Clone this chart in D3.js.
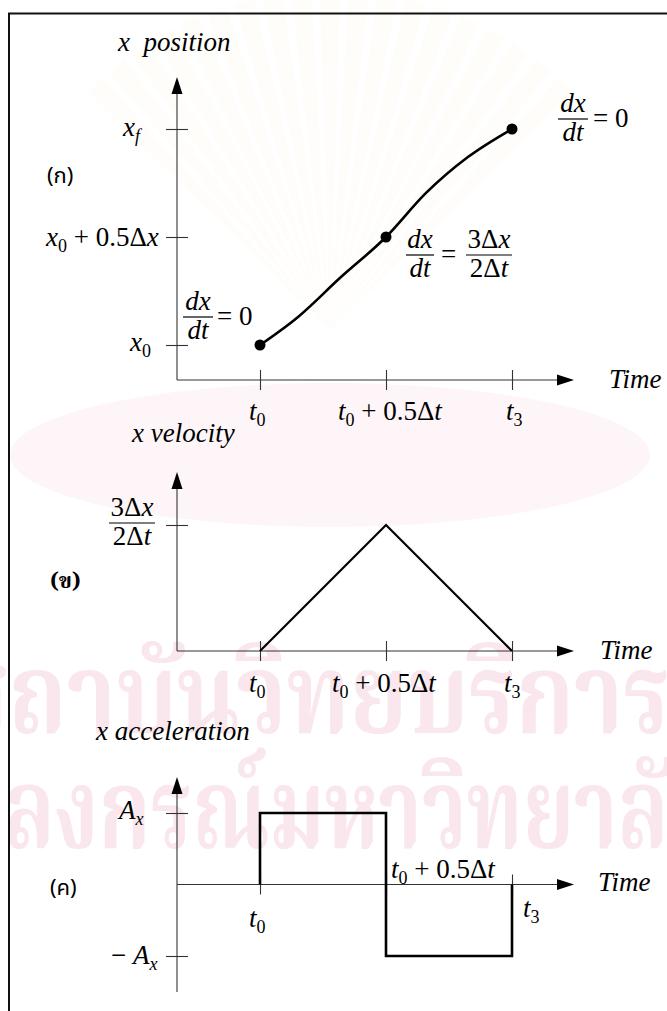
<!DOCTYPE html>
<html>
<head>
<meta charset="utf-8">
<script src="https://cdn.jsdelivr.net/npm/d3@7"></script>
</head>
<body style="margin:0">
<svg id="chart" width="667" height="1011" font-family="Liberation Serif, serif"></svg>
<script>
// ---- data -------------------------------------------------------------
// time ticks shared by the three panels: t0, t0 + 0.5Δt, t3 (fraction of Δt)
const timeTicks = [0, 0.5, 1];

// (ก) position, normalised so x0 = 0 and xf = 1
const positionTicks = [0, 0.5, 1];
const positionT = [0, 0.151, 0.317, 0.5, 0.659, 0.825, 1];
const positionX = [0, 0.130, 0.310, 0.5, 0.704, 0.870, 1];
const markerT = [0, 0.5, 1];
const markerX = [0, 0.5, 1];

// (ข) velocity, in units of Δx/Δt
const velocityTicks = [1.5];
const velocityT = [0, 0.5, 1];
const velocityV = [0, 1.5, 0];

// (ค) acceleration, in units of A_x (bang-bang profile)
const accelTicks = [1, -1];
const accelT = [0, 0, 0.5, 0.5, 1, 1];
const accelA = [0, 1, 1, -1, -1, 0];

// ---- drawing ----------------------------------------------------------
const svg = d3.select("#chart").style("display", "block");
const MATH = 27;          // font size of the maths labels
const SERIF = '"Liberation Serif", "Times New Roman", serif';
const axisColor = "#333";
const originX = 177;      // where the vertical axes stand

const x = d3.scaleLinear().domain([0, 1]).range([260, 512]);

// faint library watermark behind the figure
const rays = d3.range(-9, 10);
svg.selectAll("path.ray").data(rays).join("path")
  .attr("class", "ray")
  .attr("d", d => {
    const cx = 330, cy = 330, r = 340, a = d * 0.085, w = 0.03;
    const p1 = [cx + r * Math.sin(a - w), cy - r * Math.cos(a - w)];
    const p2 = [cx + r * Math.sin(a + w), cy - r * Math.cos(a + w)];
    return `M${cx},${cy}L${p1[0]},${p1[1]}L${p2[0]},${p2[1]}Z`;
  })
  .attr("fill", "#f6efd9").attr("opacity", 0.14);
svg.append("ellipse").attr("cx", 330).attr("cy", 455).attr("rx", 320).attr("ry", 72)
  .attr("fill", "#fcf1f4").attr("opacity", 0.7);
svg.append("text").attr("x", -50).attr("y", 733)
  .attr("textLength", 720).attr("lengthAdjust", "spacingAndGlyphs")
  .style("font-family", '"Noto Serif Thai"').style("font-weight", "bold")
  .style("font-size", "112px").attr("fill", "#f9e7ed")
  .text("สถาบันวิทยบริการ");
svg.append("text").attr("x", -150).attr("y", 848)
  .attr("textLength", 870).attr("lengthAdjust", "spacingAndGlyphs")
  .style("font-family", '"Noto Serif Thai"').style("font-weight", "bold")
  .style("font-size", "112px").attr("fill", "#f9e7ed")
  .text("จุฬาลงกรณ์มหาวิทยาลัย");

// frame
svg.append("path").attr("d", "M9,1011V13.5H667")
  .attr("fill", "none").attr("stroke", "#111").attr("stroke-width", 2);

// write a run of maths, one text element per run: [{s, i (italic), sub (subscript)}]
function math(px, py, runs, opts = {}) {
  const size = opts.size || MATH;
  const anchor = opts.anchor || "start";
  const items = [];
  let w = 0;
  runs.forEach(r => {
    const fs = r.sub ? Math.round(size * 0.66) : size;
    const t = svg.append("text")
      .attr("x", 0).attr("y", py + (r.sub ? Math.round(size * 0.24) : 0))
      .attr("font-family", "Liberation Serif, serif")
      .style("font-family", SERIF)
      .style("font-size", fs + "px");
    if (r.i) t.style("font-style", "italic");
    t.text(r.s);
    items.push([t, w]);
    w += t.node().getComputedTextLength();
  });
  const start = anchor === "middle" ? px - w / 2 : anchor === "end" ? px - w : px;
  items.forEach(([t, off]) => t.attr("x", start + off));
}

function fraction(cx, lineY, num, den, halfW) {
  math(cx, lineY - 7, num, { anchor: "middle" });
  math(cx, lineY + 22, den, { anchor: "middle" });
  svg.append("line").attr("x1", cx - halfW).attr("x2", cx + halfW)
    .attr("y1", lineY).attr("y2", lineY)
    .attr("stroke", "#000").attr("stroke-width", 1.2);
}

function arrowHead(tipX, tipY, dir) {
  const L = 17, W = 5.5;
  const pts = dir === "up"
    ? [[tipX, tipY], [tipX - W, tipY + L], [tipX + W, tipY + L]]
    : [[tipX, tipY], [tipX - L, tipY - W], [tipX - L, tipY + W]];
  svg.append("path").attr("d", d3.line()(pts) + "Z").attr("fill", "#000");
}

// axes of one panel: vertical axis with crossing ticks, time axis with ticks
function drawAxes(y, yTicks, axisY, top, bottom) {
  svg.append("line").attr("x1", originX).attr("x2", originX)
    .attr("y1", top + 14).attr("y2", bottom)
    .attr("stroke", axisColor).attr("stroke-width", 1.1);
  arrowHead(originX, top, "up");
  const ya = svg.append("g").attr("transform", `translate(${originX},0)`)
    .call(d3.axisLeft(y).tickValues(yTicks).tickFormat("").tickSizeInner(11).tickSizeOuter(0));
  ya.select(".domain").remove();
  ya.selectAll(".tick text").remove();
  ya.selectAll(".tick line").attr("x1", 11).attr("stroke", axisColor).attr("stroke-width", 1.1);

  svg.append("line").attr("x1", originX).attr("x2", 558)
    .attr("y1", axisY).attr("y2", axisY)
    .attr("stroke", axisColor).attr("stroke-width", 1.1);
  arrowHead(574, axisY, "right");
  const xa = svg.append("g").attr("transform", `translate(0,${axisY})`)
    .call(d3.axisBottom(x).tickValues(timeTicks).tickFormat("").tickSizeInner(10).tickSizeOuter(0));
  xa.select(".domain").remove();
  xa.selectAll(".tick text").remove();
  xa.selectAll(".tick line").attr("y1", -10).attr("stroke", axisColor).attr("stroke-width", 1.1);
}

function thaiLabel(px, py, s, family, bold) {
  const t = svg.append("text").attr("x", px).attr("y", py)
    .style("font-family", family).style("font-size", "22px");
  if (bold) t.style("font-weight", "bold");
  t.text(s);
}

const NB = "\u00a0";
const t0 = [{ s: "t", i: true }, { s: "0", sub: true }];
const tMid = [{ s: "t", i: true }, { s: "0", sub: true }, { s: NB + "+" + NB + "0.5Δ" }, { s: "t", i: true }];
const t3 = [{ s: "t", i: true }, { s: "3", sub: true }];
const dx = [{ s: "dx", i: true }];
const dt = [{ s: "dt", i: true }];

// ---- (ก) position --------------------------------------------------------
{
  const y = d3.scaleLinear().domain([0, 1]).range([345, 129]);
  const axisY = 380;
  drawAxes(y, positionTicks, axisY, 77, axisY);

  math(118, 51, [{ s: "x" + NB + NB + "position", i: true }]);
  thaiLabel(47, 183, "(ก)", '"Noto Sans Thai"', false);

  math(123, y(1) + 7, [{ s: "x", i: true }, { s: "f", i: true, sub: true }]);
  math(46, y(0.5) + 9, [{ s: "x", i: true }, { s: "0", sub: true }, { s: NB + "+" + NB + "0.5Δ" }, { s: "x", i: true }]);
  math(130, y(0) + 6, [{ s: "x", i: true }, { s: "0", sub: true }]);

  math(x(0) - 11, 420, t0);
  math(x(0.5) - 48, 420, tMid);
  math(x(1) - 6, 420, t3);
  math(609, axisY + 8, [{ s: "Time", i: true }]);

  const pts = positionT.map((t, k) => [x(t), y(positionX[k])]);
  svg.append("path").attr("d", d3.line().curve(d3.curveMonotoneX)(pts))
    .attr("fill", "none").attr("stroke", "#000").attr("stroke-width", 2.6);
  svg.selectAll("circle.marker").data(markerT).join("circle")
    .attr("class", "marker")
    .attr("cx", d => x(d)).attr("cy", (d, k) => y(markerX[k])).attr("r", 5.5).attr("fill", "#000");

  // slope annotations
  fraction(573, 119, dx, dt, 15);
  math(593, 127, [{ s: "=" + NB + "0" }]);
  fraction(420, 255, dx, dt, 14);
  math(441, 263, [{ s: "=" }]);
  fraction(489, 255, [{ s: "3Δ" }, { s: "x", i: true }], [{ s: "2Δ" }, { s: "t", i: true }], 23);
  fraction(198, 317, dx, dt, 15);
  math(217, 325, [{ s: "=" + NB + "0" }]);
}

// ---- (ข) velocity --------------------------------------------------------
{
  const y = d3.scaleLinear().domain([0, 1.5]).range([651, 525]);
  const axisY = y(0);
  drawAxes(y, velocityTicks, axisY, 472, axisY);

  math(132, 442, [{ s: "x velocity", i: true }]);
  thaiLabel(50, 588, "(ข)", '"Noto Serif Thai"', true);

  fraction(132, y(1.5) - 2, [{ s: "3Δ" }, { s: "x", i: true }], [{ s: "2Δ" }, { s: "t", i: true }], 23);

  math(x(0) - 11, 692, t0);
  math(x(0.5) - 54, 692, tMid);
  math(x(1) - 8, 692, t3);
  math(600, axisY + 8, [{ s: "Time", i: true }]);

  const pts = velocityT.map((t, k) => [x(t), y(velocityV[k])]);
  svg.append("path").attr("d", d3.line()(pts))
    .attr("fill", "none").attr("stroke", "#000").attr("stroke-width", 2.2);
}

// ---- (ค) acceleration ----------------------------------------------------
{
  const y = d3.scaleLinear().domain([-1, 1]).range([956, 813]);
  const axisY = y(0);
  drawAxes(y, accelTicks, axisY, 777, 992);

  math(96, 740, [{ s: "x acceleration", i: true }]);
  thaiLabel(50, 895, "(ค)", '"Noto Sans Thai"', false);

  math(119, y(1) + 6, [{ s: "A", i: true }, { s: "x", i: true, sub: true }]);
  math(111, y(-1) + 8, [{ s: "−" + NB }, { s: "A", i: true }, { s: "x", i: true, sub: true }]);

  math(x(0) - 11, 927, t0);
  math(x(0.5) + 5, 878, tMid);
  math(x(1) + 11, 917, t3);
  math(598, axisY + 6, [{ s: "Time", i: true }]);

  const pts = accelT.map((t, k) => [x(t), y(accelA[k])]);
  svg.append("path").attr("d", d3.line()(pts))
    .attr("fill", "none").attr("stroke", "#000").attr("stroke-width", 2.6);
}
</script>
</body>
</html>
